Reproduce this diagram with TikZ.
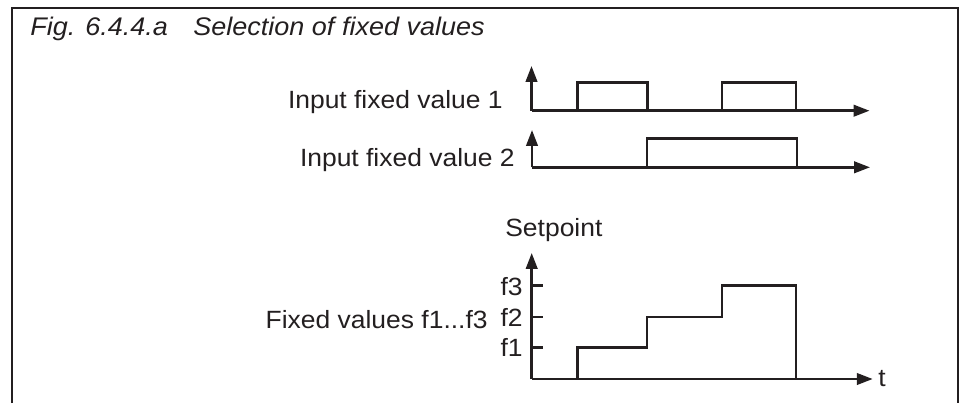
\documentclass[tikz,border=0pt]{standalone}
\usepackage{fontspec}
\setmainfont[FakeStretch=1.06]{Liberation Sans}
\usetikzlibrary{arrows.meta}
\definecolor{inkblack}{RGB}{35,31,32}
\tikzset{
  sigaxis/.style={-{Triangle[length=9pt,width=6.5pt]}, line width=1.4pt, draw=inkblack},
  sigline/.style={line width=1.4pt, draw=inkblack, line join=miter},
  sigtick/.style={line width=1.4pt, draw=inkblack},
  lbl/.style={font=\fontsize{14.2}{16}\selectfont, text=inkblack, inner sep=0pt},
  frm/.style={line width=1.2pt, draw=inkblack},
}
\begin{document}
\begin{tikzpicture}[x=0.02cm, y=-0.02cm]
  \useasboundingbox (0,0) rectangle (966,403);

  % -- Frame, open at the bottom --
  \draw[frm] (12,403) -- (12,8) -- (958,8) -- (958,403);
  \node[lbl, anchor=base west, font=\fontsize{14.5}{17}\selectfont\itshape]
       (title) at (30,35) {Fig. 6.4.4.a\quad Selection of fixed values};

  % -- Input fixed value 1 --
  \begin{scope}[shift={(531.5,110.7)}]
    \coordinate (oA) at (0,0);
    \draw[sigaxis] (oA) -- (0,-44.7);
    \draw[sigaxis] (oA) -- (338,0);
    \draw[sigline] (46,0) -- (46,-28) -- (116,-28) -- (116,0);
    \draw[sigline] (190.5,0) -- (190.5,-28) -- (264.5,-28) -- (264.5,0);
  \end{scope}
  \node[lbl, anchor=base east] (inA) at (503,108) {Input fixed value 1};

  % -- Input fixed value 2 --
  \begin{scope}[shift={(532,167.3)}]
    \coordinate (oB) at (0,0);
    \draw[sigaxis] (oB) -- (0,-37.3);
    \draw[sigaxis] (oB) -- (338,0);
    \draw[sigline] (115,0) -- (115,-28.6) -- (265,-28.6) -- (265,0);
  \end{scope}
  \node[lbl, anchor=base east] (inB) at (515,166.7) {Input fixed value 2};

  % -- Setpoint staircase --
  \begin{scope}[shift={(531.7,379)}]
    \coordinate (oC) at (0,0);
    \draw[sigaxis] (oC) -- (0,-126);
    \draw[sigaxis] (oC) -- (341,0);
    \foreach \lv/\nm in {-31.3/f1, -62/f2, -93.7/f3}
      \draw[sigtick] (0,\lv) -- (11.5,\lv);
    \draw[sigline] (46,0) -- (46,-31.3) -- (115.5,-31.3) -- (115.5,-62)
         -- (190.5,-62) -- (190.5,-93.7) -- (264.5,-93.7) -- (264.5,0);
  \end{scope}
  \node[lbl, anchor=base east] (fA) at (523,356.7) {f1};
  \node[lbl, anchor=base east] (fB) at (523,326) {f2};
  \node[lbl, anchor=base east] (fC) at (523,295) {f3};
  \node[lbl, anchor=base west] (tt) at (878,386) {t};
  \node[lbl, anchor=base west] (setp) at (505,236.7) {Setpoint};
  \node[lbl, anchor=base east] (fix) at (488,328) {Fixed values f1...f3};
\end{tikzpicture}
\end{document}
